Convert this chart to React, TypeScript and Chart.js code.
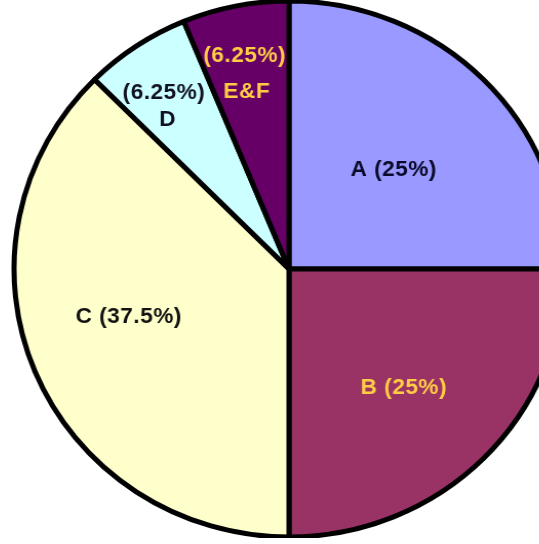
import React, { useEffect, useRef } from "react";
import { Chart, registerables } from "chart.js";

Chart.register(...registerables);

const categories = ["A", "B", "C", "D", "E&F"];
const values = [25, 25, 37.5, 6.25, 6.25];
const sliceColors = ["#9999ff", "#993366", "#ffffcc", "#ccffff", "#660066"];
const labelLines = [
  ["A (25%)"],
  ["B (25%)"],
  ["C (37.5%)"],
  ["(6.25%)", "D"],
  ["(6.25%)", "E&F"],
];
const labelColors = ["#0a0a2a", "#ffcc44", "#111111", "#111122", "#ffcc44"];
// label placement inside each arc: [fraction of arc angle, fraction of radius] per line
const labelPlacement = [
  [[0.51, 0.53]],
  [[0.52, 0.61]],
  [[0.54, 0.61]],
  [[0.46, 0.80], [0.29, 0.71]],
  [[0.49, 0.81], [0.42, 0.68]],
];

const labelPlugin = {
  id: "sliceLabels",
  afterDatasetsDraw(chart: any) {
    const ctx = chart.ctx;
    const meta = chart.getDatasetMeta(0);
    ctx.save();
    ctx.font = "bold 22px 'Liberation Sans', Arial, sans-serif";
    (ctx as any).letterSpacing = "0.5px";
    ctx.textAlign = "center";
    ctx.textBaseline = "middle";
    meta.data.forEach((arc: any, i: number) => {
      const { x, y, startAngle, endAngle, outerRadius } = arc.getProps(
        ["x", "y", "startAngle", "endAngle", "outerRadius"],
        true
      );
      labelLines[i].forEach((line, j) => {
        const [af, rf] = labelPlacement[i][j];
        const a = startAngle + (endAngle - startAngle) * af;
        const r = outerRadius * rf;
        ctx.fillStyle = labelColors[i];
        ctx.fillText(line, x + Math.cos(a) * r, y + Math.sin(a) * r);
      });
    });
    ctx.restore();
  },
};

export default function App() {
  const ref = useRef<HTMLCanvasElement>(null);
  useEffect(() => {
    if (!ref.current) return;
    const chart = new Chart(ref.current, {
      type: "pie",
      data: {
        labels: categories,
        datasets: [
          {
            data: values,
            backgroundColor: sliceColors,
            borderColor: "#000000",
            borderWidth: 5,
            hoverOffset: 0,
          },
        ],
      },
      options: {
        responsive: false,
        animation: false,
        events: [],
        radius: 268,
        layout: { padding: 0 },
        plugins: {
          legend: { display: false },
          tooltip: { enabled: false },
        },
      } as any,
      plugins: [labelPlugin],
    });
    return () => chart.destroy();
  }, []);
  return (
    <div
      style={{
        position: "fixed",
        left: 0,
        top: 0,
        width: 539,
        height: 544,
        overflow: "hidden",
        background: "#ffffff",
      }}
    >
      <canvas
        ref={ref}
        width={578}
        height={538}
        style={{
          display: "block",
          transform: "scaleX(1.026)",
          transformOrigin: "289px 0px",
        }}
      />
    </div>
  );
}
